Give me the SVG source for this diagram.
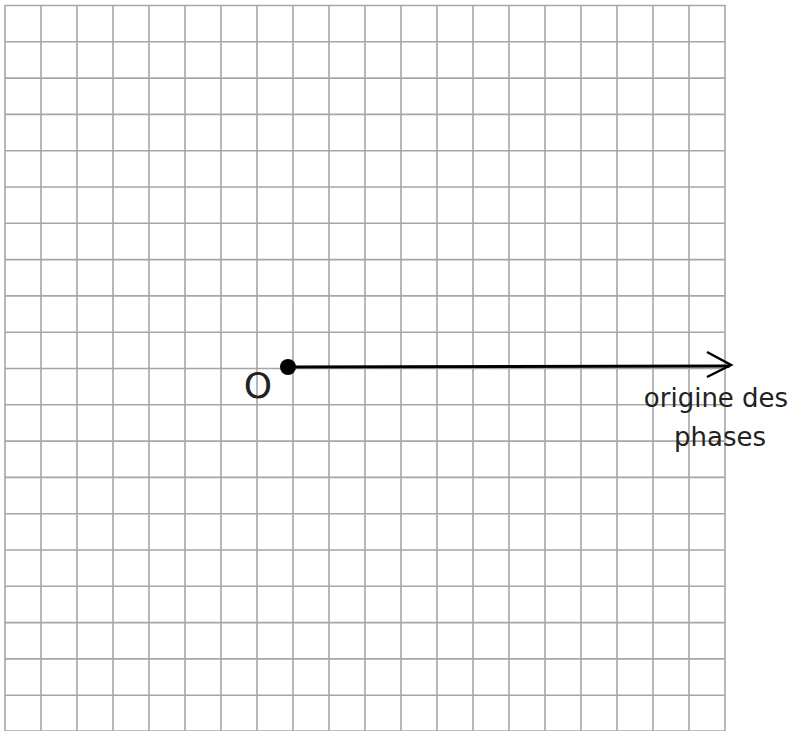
<svg xmlns="http://www.w3.org/2000/svg" width="797" height="731" viewBox="0 0 797 731">
<style>
.grid line{stroke:#a6a6a6;stroke-width:1.6}
.lbl{font-family:"DejaVu Sans","Liberation Sans",sans-serif;fill:#222}
</style>
<rect width="797" height="731" fill="#fff"/>
<g class="grid" id="grid">
<line x1="5" y1="5.5" x2="725" y2="5.5"/><line x1="5" y1="41.8" x2="725" y2="41.8"/><line x1="5" y1="78.1" x2="725" y2="78.1"/><line x1="5" y1="114.4" x2="725" y2="114.4"/><line x1="5" y1="150.7" x2="725" y2="150.7"/><line x1="5" y1="187" x2="725" y2="187"/><line x1="5" y1="223.3" x2="725" y2="223.3"/><line x1="5" y1="259.6" x2="725" y2="259.6"/><line x1="5" y1="295.9" x2="725" y2="295.9"/><line x1="5" y1="332.2" x2="725" y2="332.2"/><line x1="5" y1="368.5" x2="725" y2="368.5"/><line x1="5" y1="404.8" x2="725" y2="404.8"/><line x1="5" y1="441.1" x2="725" y2="441.1"/><line x1="5" y1="477.4" x2="725" y2="477.4"/><line x1="5" y1="513.7" x2="725" y2="513.7"/><line x1="5" y1="550" x2="725" y2="550"/><line x1="5" y1="586.3" x2="725" y2="586.3"/><line x1="5" y1="622.6" x2="725" y2="622.6"/><line x1="5" y1="658.9" x2="725" y2="658.9"/><line x1="5" y1="695.2" x2="725" y2="695.2"/><line x1="5" y1="731" x2="725" y2="731"/>
<line x1="5" y1="5" x2="5" y2="731"/><line x1="41" y1="5" x2="41" y2="731"/><line x1="77" y1="5" x2="77" y2="731"/><line x1="113" y1="5" x2="113" y2="731"/><line x1="149" y1="5" x2="149" y2="731"/><line x1="185" y1="5" x2="185" y2="731"/><line x1="221" y1="5" x2="221" y2="731"/><line x1="257" y1="5" x2="257" y2="731"/><line x1="293" y1="5" x2="293" y2="731"/><line x1="329" y1="5" x2="329" y2="731"/><line x1="365" y1="5" x2="365" y2="731"/><line x1="401" y1="5" x2="401" y2="731"/><line x1="437" y1="5" x2="437" y2="731"/><line x1="473" y1="5" x2="473" y2="731"/><line x1="509" y1="5" x2="509" y2="731"/><line x1="545" y1="5" x2="545" y2="731"/><line x1="581" y1="5" x2="581" y2="731"/><line x1="617" y1="5" x2="617" y2="731"/><line x1="653" y1="5" x2="653" y2="731"/><line x1="689" y1="5" x2="689" y2="731"/><line x1="725" y1="5" x2="725" y2="731"/>
</g>
<g id="connectors">
<line x1="288" y1="367" x2="730" y2="366" stroke="#000" stroke-width="3"/>
<polyline points="707,352 731,365 707,377" fill="none" stroke="#000" stroke-width="2.5"/>
</g>
<g id="origin">
<circle cx="288" cy="367" r="8" fill="#000"/>
<text class="lbl" x="258" y="398" font-size="36" text-anchor="middle">O</text>
</g>
<g id="label">
<text class="lbl" x="716" y="407" font-size="26" text-anchor="middle">origine des</text>
<text class="lbl" x="720" y="446" font-size="26" text-anchor="middle">phases</text>
</g>
</svg>
